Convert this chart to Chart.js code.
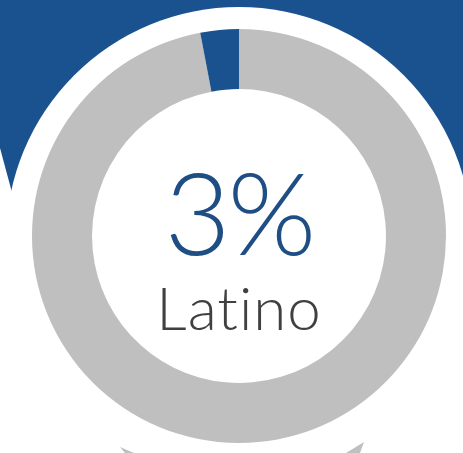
<!DOCTYPE html>
<html>
<head>
<meta charset="utf-8">
<script src="https://cdn.jsdelivr.net/npm/chart.js@4.4.1/dist/chart.umd.min.js"></script>
<style>
    html, body { margin: 0; padding: 0; background: #ffffff; }
    #wrap { position: relative; width: 463px; height: 453px; overflow: hidden; }
    #latinocanvas { position: absolute; left: 0; top: 0; }
    .center-text { position: absolute; left: 0; width: 478px; text-align: center; line-height: 1; white-space: nowrap; }
    #pctText { top: 142px; font: 300 114px Lato, sans-serif; color: #1f4e85; letter-spacing: -3px; }
    #labelText { top: 271px; font: 300 60px Lato, sans-serif; color: #404040; letter-spacing: 1px; }
</style>
</head>
<body>
<div id="wrap">
    <canvas id="latinocanvas" width="463" height="453"></canvas>
    <div id="pctText" class="center-text"></div>
    <div id="labelText" class="center-text"></div>
</div>
<script>
// ข้อมูลกราฟ
let groupLabels = ["Other", "Latino"];
let groupValues = [97, 3];
let groupColors = ["#bfbfbf", "#1a528f"];
let highlightLabel = "Latino";
let highlightText = "3%";

// วาดพื้นหลัง (สีน้ำเงินด้านบน วงกลมขาว เงาเทาด้านล่าง)
const backgroundShapes = {
    id: 'backgroundShapes',
    beforeDraw(chart) {
        let ctx = chart.ctx;
        ctx.save();
        ctx.fillStyle = "#1a528f";
        ctx.beginPath();
        ctx.moveTo(0, 0);
        ctx.lineTo(463, 0);
        ctx.lineTo(463, 236);
        ctx.lineTo(239, 236);
        ctx.lineTo(14, 200);
        ctx.lineTo(0, 148);
        ctx.closePath();
        ctx.fill();

        ctx.fillStyle = "#bfbfbf";
        ctx.beginPath();
        ctx.moveTo(120, 447);
        ctx.lineTo(134, 453);
        ctx.lineTo(125, 453);
        ctx.closePath();
        ctx.fill();
        ctx.beginPath();
        ctx.moveTo(364, 442);
        ctx.lineTo(346, 453);
        ctx.lineTo(360, 453);
        ctx.closePath();
        ctx.fill();

        ctx.fillStyle = "#ffffff";
        ctx.beginPath();
        ctx.arc(239, 240, 233, 0, Math.PI * 2);
        ctx.fill();
        ctx.restore();
    }
};

function createLatinoCanvas() {
    let Canvas = document.getElementById('latinocanvas').getContext('2d');
    let donutChart = new Chart(Canvas, {
        type: 'doughnut',
        data: {
            labels: groupLabels,
            datasets: [{
                data: groupValues,
                backgroundColor: groupColors,
                borderWidth: 0
            }]
        },
        options: {
            responsive: false,
            animation: false,
            cutout: '71%',
            layout: { padding: { left: 32, right: 17, top: 29, bottom: 10 } },
            plugins: {
                legend: { display: false },
                tooltip: { enabled: false }
            }
        },
        plugins: [backgroundShapes]
    });

    document.getElementById('pctText').textContent = highlightText;
    document.getElementById('labelText').textContent = highlightLabel;
    return { chartData: donutChart };
}

createLatinoCanvas();
</script>
</body>
</html>
